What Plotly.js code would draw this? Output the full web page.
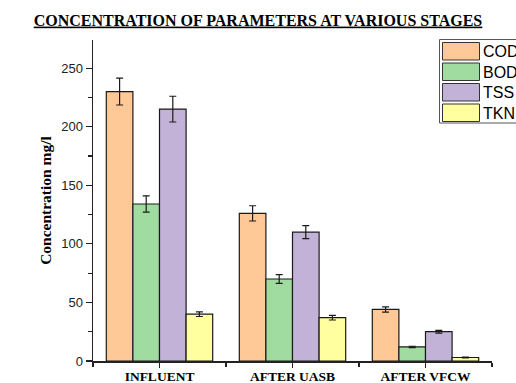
<!DOCTYPE html>
<html>
<head>
<meta charset="utf-8">
<script src="https://cdn.plot.ly/plotly-3.0.1.min.js"></script>
<style>html,body{margin:0;padding:0;background:#fff;}#chart{width:516px;height:383px;}</style>
</head>
<body>
<div id="chart"></div>
<script>
// ---- data ----
var stages = ["INFLUENT", "AFTER UASB", "AFTER VFCW"];
var seriesNames = ["COD", "BOD", "TSS", "TKN"];
var codValues = [230, 126, 44];
var codErrors = [11.5, 6.5, 2.2];
var bodValues = [134, 70, 12];
var bodErrors = [7, 3.7, 0.6];
var tssValues = [215, 110, 25];
var tssErrors = [11, 5.5, 1.2];
var tknValues = [40, 37, 3];
var tknErrors = [2, 2, 0.3];
var seriesColors = ["#FFC896", "#A0DCA0", "#C2B2D8", "#FFFFA0"];

var values = [codValues, bodValues, tssValues, tknValues];
var errors = [codErrors, bodErrors, tssErrors, tknErrors];
var xIdx = stages.map(function (s, i) { return i; });

var traces = seriesNames.map(function (name, k) {
  return {
    type: "bar",
    name: name,
    x: xIdx,
    y: values[k],
    marker: { color: seriesColors[k], line: { color: "#1a1a1a", width: 1.2 } },
    error_y: { type: "data", array: errors[k], visible: true, color: "#1a1a1a", thickness: 1.2, width: 3.5 },
    showlegend: false
  };
});

// ---- layout helpers (pixel -> paper) ----
var W = 516, H = 383, mL = 93, mR = 24, mT = 40, mB = 22;
var pw = W - mL - mR, ph = H - mT - mB;
function px(x) { return (x - mL) / pw; }
function py(y) { return (H - mB - y) / ph; }

var shapes = [{
  type: "rect", xref: "paper", yref: "paper",
  x0: px(439.5), x1: px(530), y0: py(39.5), y1: py(123),
  line: { color: "#555", width: 1 }, fillcolor: "rgba(0,0,0,0)"
}];
var annotations = [];
seriesNames.forEach(function (name, k) {
  var top = 42.5 + k * 20.5;
  shapes.push({
    type: "rect", xref: "paper", yref: "paper",
    x0: px(442.5), x1: px(479.5), y0: py(top), y1: py(top + 17.5),
    line: { color: "#333", width: 1 }, fillcolor: seriesColors[k]
  });
  annotations.push({
    xref: "paper", yref: "paper", x: px(481), y: py(top + 9),
    xanchor: "left", yanchor: "middle", showarrow: false,
    text: name, font: { family: "Liberation Sans, Arial", size: 16, color: "#000" }
  });
});

var layout = {
  width: W, height: H,
  margin: { l: mL, r: mR, t: mT, b: mB, pad: 0 },
  paper_bgcolor: "#fff", plot_bgcolor: "#fff",
  barmode: "group", bargap: 0.2, bargroupgap: 0,
  title: {
    text: "<b><u>CONCENTRATION OF PARAMETERS AT VARIOUS STAGES</u></b>",
    font: { family: "Liberation Serif, Times New Roman", size: 16, color: "#000" },
    x: 0.5, xref: "container", xanchor: "center", y: 1 - 20 / H, yanchor: "middle"
  },
  xaxis: {
    range: [-0.5, 2.5], tickvals: xIdx, ticktext: stages,
    showgrid: false, zeroline: false, showline: true, linecolor: "#222", linewidth: 1.5,
    ticks: "outside", ticklen: 5, tickwidth: 1.2, tickcolor: "#222",
    ticklabelstandoff: -3,
    minor: { tick0: -0.5, dtick: 1, ticks: "outside", ticklen: 4, tickwidth: 1.2, tickcolor: "#222" },
    tickfont: { family: "Liberation Serif, Times New Roman", size: 13.5, color: "#000", weight: "bold" },
    fixedrange: true
  },
  yaxis: {
    range: [0, 274], dtick: 50, tick0: 0,
    showgrid: false, zeroline: false, showline: true, linecolor: "#222", linewidth: 1.5,
    ticks: "outside", ticklen: 6, tickwidth: 1.2, tickcolor: "#222",
    minor: { dtick: 25, ticks: "outside", ticklen: 3.5, tickwidth: 1.2, tickcolor: "#222" },
    tickfont: { family: "Liberation Sans, Arial", size: 13, color: "#222" },
    title: { text: "<b>Concentration mg/l</b>", standoff: 6,
      font: { family: "Liberation Serif, Times New Roman", size: 15.5, color: "#000" } },
    fixedrange: true
  },
  shapes: shapes,
  annotations: annotations,
  showlegend: false
};

Plotly.newPlot("chart", traces, layout, { displayModeBar: false, staticPlot: true });
</script>
</body>
</html>
